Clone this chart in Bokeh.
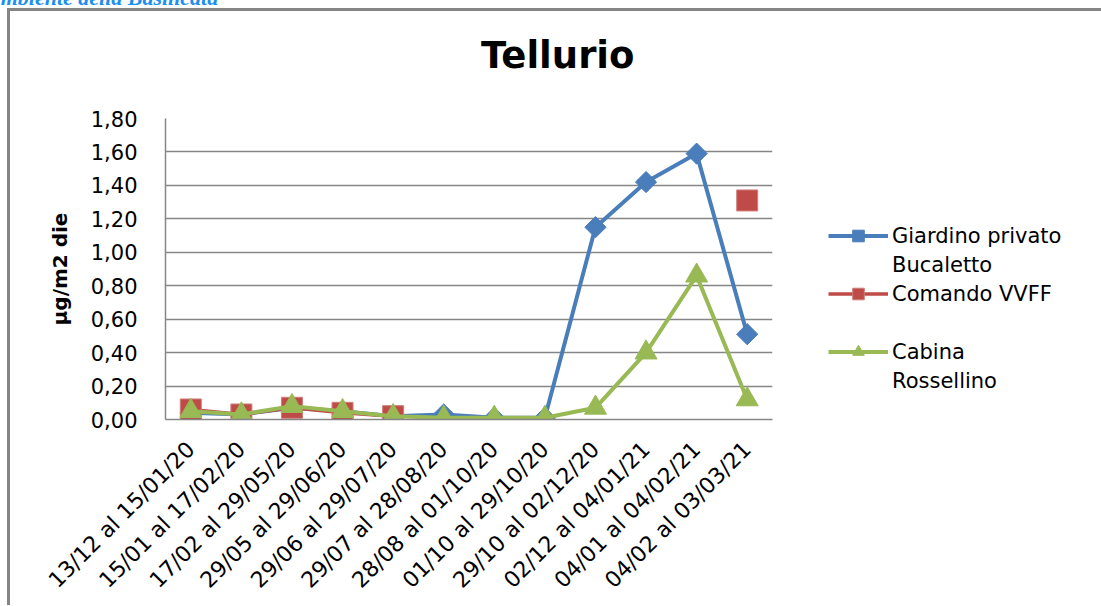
import math
import numpy as np
from bokeh.plotting import figure
from bokeh.layouts import column, row
from bokeh.models import (ColumnDataSource, FactorRange, Range1d, FixedTicker, Div,
                          CustomJSTickFormatter, Legend, LegendItem)
from bokeh.embed import file_html
from bokeh.resources import INLINE

# ---------------- data ----------------
categories = ["13/12 al 15/01/20", "15/01 al 17/02/20", "17/02 al 29/05/20",
              "29/05 al 29/06/20", "29/06 al 29/07/20", "29/07 al 28/08/20",
              "28/08 al 01/10/20", "01/10 al 29/10/20", "29/10 al 02/12/20",
              "02/12 al 04/01/21", "04/01 al 04/02/21", "04/02 al 03/03/21"]
giardino = [0.04, 0.03, 0.07, 0.05, 0.02, 0.03, 0.01, 0.01, 1.15, 1.42, 1.59, 0.51]
comando = [0.06, 0.03, 0.07, 0.04, 0.02, np.nan, np.nan, np.nan, np.nan, np.nan, np.nan, 1.31]
cabina = [0.05, 0.03, 0.08, 0.05, 0.02, 0.01, 0.01, 0.01, 0.07, 0.40, 0.86, 0.12]
series_names = ["Giardino privato\nBucaletto", "Comando VVFF", "Cabina\nRossellino"]
y_ticks = [0.0, 0.2, 0.4, 0.6, 0.8, 1.0, 1.2, 1.4, 1.6, 1.8]
y_tick_labels = ["0,00", "0,20", "0,40", "0,60", "0,80", "1,00", "1,20", "1,40", "1,60", "1,80"]
title_text = "Tellurio"
y_label = "µg/m2 die"
header_text = "Ambiente della Basilicata"

source = ColumnDataSource(data=dict(
    cat=categories,
    giardino=np.array(giardino, dtype=float),
    comando=np.array(comando, dtype=float),
    cabina=np.array(cabina, dtype=float),
))
columns = ["giardino", "comando", "cabina"]

FONT = "DejaVu Sans"
BLUE, RED, GREEN = "#4A7EBB", "#BE4B48", "#98B954"
GRID = "#868686"

# page geometry (root sits at page 0,0)
BX, BY, BW = 7, 8, 3            # outer border position / width
CX, CY = BX + BW, BY + BW       # content origin
TITLE_H = 70
PY = CY + TITLE_H               # top of plot canvas on page
FRAME_L, FRAME_R, FRAME_T, FRAME_B = 165, 772, 118, 419
XAX_H = 186                     # room for the rotated category labels
WP = FRAME_R + 10 - CX
HP = FRAME_B + XAX_H - PY
LEG_X = 828                     # legend left edge on page
ROW_PITCH = 29
LEG_FIRST_ROW = 235.5           # centre of first legend row on page

# ---------------- main plot ----------------
p = figure(width=WP, height=HP, x_range=FactorRange(*categories), y_range=Range1d(0, 1.8),
           output_backend="svg", toolbar_location=None, title=None,
           min_border_left=FRAME_L - CX, min_border_right=10,
           min_border_top=FRAME_T - PY, min_border_bottom=XAX_H)
p.outline_line_color = None
p.background_fill_color = "white"
p.border_fill_color = "white"
p.x_range.range_padding = 0

p.yaxis.ticker = FixedTicker(ticks=y_ticks)
p.yaxis.formatter = CustomJSTickFormatter(args=dict(tv=y_ticks, tl=y_tick_labels), code="""
    const i = tv.findIndex(t => Math.abs(t - tick) < 1e-9);
    return i >= 0 ? tl[i] : '';
""")
p.yaxis.major_tick_out = 0
p.yaxis.major_tick_in = 0
p.yaxis.minor_tick_out = 0
p.yaxis.minor_tick_in = 0
p.yaxis.major_label_standoff = 28
p.yaxis.major_label_text_font = FONT
p.yaxis.major_label_text_font_size = "21px"
p.yaxis.major_label_text_color = "#000000"
p.yaxis.axis_line_color = GRID
p.yaxis.axis_line_width = 1.5
p.yaxis.axis_label = y_label
p.yaxis.axis_label_text_font = FONT
p.yaxis.axis_label_text_font_size = "20px"
p.yaxis.axis_label_text_font_style = "bold"
p.yaxis.axis_label_text_color = "#000000"
p.yaxis.axis_label_standoff = 16

p.xaxis.major_tick_out = 0
p.xaxis.major_tick_in = 0
p.xaxis.minor_tick_out = 0
p.xaxis.axis_line_color = GRID
p.xaxis.axis_line_width = 1.5
p.xaxis.major_label_orientation = math.pi / 4
p.xaxis.major_label_text_font = FONT
p.xaxis.major_label_text_font_size = "22px"
p.xaxis.major_label_text_color = "#000000"
p.xaxis.major_label_standoff = 26

p.xgrid.grid_line_color = None
p.ygrid.grid_line_color = GRID
p.ygrid.grid_line_width = 1.5

STYLES = [
    dict(color=BLUE, lw=4, marker="square", angle=math.pi / 4, size=15, edge=BLUE),
    dict(color=RED, lw=3.5, marker="square", angle=0, size=21, edge="#D07E7C"),
    dict(color=GREEN, lw=4, marker="triangle", angle=0, size=22, edge=GREEN),
]
for col, st in zip(columns, STYLES):
    p.line("cat", col, source=source, line_color=st["color"], line_width=st["lw"])
    p.scatter("cat", col, source=source, marker=st["marker"], angle=st["angle"], size=st["size"],
              fill_color=st["color"], line_color=st["edge"], line_width=1)

# ---------------- legend panel (separate canvas to the right) ----------------
QX = CX + WP
WL = 1101 - QX
q = figure(width=WL, height=HP, x_range=Range1d(-3, -2), y_range=Range1d(-3, -2),
           output_backend="svg", toolbar_location=None, title=None,
           x_axis_location=None, y_axis_location=None,
           min_border_left=0, min_border_right=0,
           min_border_top=FRAME_T - PY, min_border_bottom=XAX_H)
q.outline_line_color = None
q.grid.grid_line_color = None
q.border_fill_color = "white"
q.background_fill_color = "white"
items = []
for name, col, st in zip(series_names, columns, STYLES):
    # same series, drawn outside this panel's visible range: used only for the legend keys
    r1 = q.line(col, col, source=source, line_color=st["color"], line_width=st["lw"])
    r2 = q.scatter(col, col, source=source, marker=st["marker"], angle=st["angle"], size=st["size"],
                   fill_color=st["color"], line_color=st["edge"], line_width=1)
    lines = name.split("\n")
    items.append(LegendItem(label=lines[0], renderers=[r1, r2]))
    items.append(LegendItem(label=lines[1] if len(lines) > 1 else " ", renderers=[]))

n_rows = len(items)
leg_top = LEG_FIRST_ROW - ROW_PITCH / 2
leg_bottom = leg_top + n_rows * ROW_PITCH
legend = Legend(items=items, location=(LEG_X - QX, FRAME_B - leg_bottom))
legend.padding = 0
legend.margin = 0
legend.spacing = 0
legend.glyph_width = 60
legend.glyph_height = ROW_PITCH
legend.label_height = ROW_PITCH
legend.label_standoff = 4
legend.label_text_font = FONT
legend.label_text_font_size = "21px"
legend.label_text_color = "#000000"
legend.border_line_color = None
legend.background_fill_alpha = 0
q.add_layout(legend)

# ---------------- title and header ----------------
title_div = Div(text=('<div style="font-family: \'DejaVu Sans\'; font-size: 37px; font-weight: bold; '
                      'color: #000000; white-space: nowrap; line-height: 43px; '
                      f'padding-left: {481 - CX}px; padding-top: {34 - CY}px;">' + title_text + '</div>'),
                width=WP + WL, height=TITLE_H, margin=(0, 0, 0, 0))

header = Div(text=('<div style="font-family: \'Liberation Serif\'; font-size: 22px; font-weight: bold; '
                   'font-style: italic; color: #1C8FF0; white-space: nowrap; line-height: 26px;">'
                   + header_text + '</div>'),
             width=300, height=23, margin=(-15, 0, 0, -14), styles={"overflow": "visible"})

body = column(title_div, row(p, q, spacing=0), spacing=0, margin=(0, 0, 0, BX),
              styles={"border-left": f"{BW}px solid #858585", "border-top": f"{BW}px solid #858585"})
root = column(header, body, spacing=0)
open("out.html", "w").write(file_html(root, INLINE))
